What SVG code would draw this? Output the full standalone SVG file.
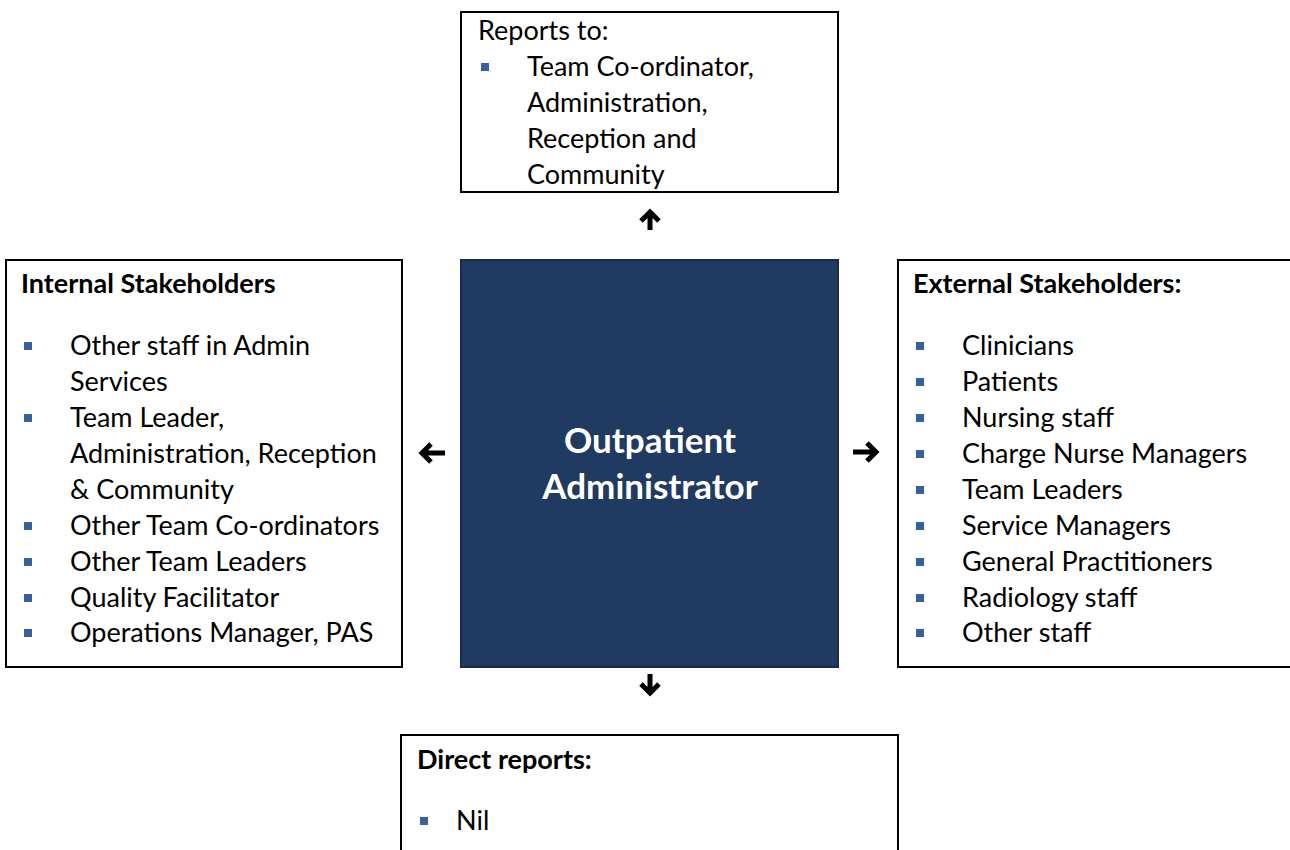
<svg xmlns="http://www.w3.org/2000/svg" width="1290" height="850" viewBox="0 0 1290 850">
<style>
.box{fill:#ffffff;stroke:#000000;stroke-width:2}
.core{fill:#213A62;stroke:#1a2b48;stroke-width:2}
.t{font-family:Lato,"Liberation Sans",sans-serif;font-size:27px;fill:#000000}
.b{font-family:Lato,"Liberation Sans",sans-serif;font-size:27px;font-weight:bold;fill:#000000}
.c{font-family:Lato,"Liberation Sans",sans-serif;font-size:35px;font-weight:bold;fill:#ffffff;text-anchor:middle}
.bl{fill:#36609F}
.arr{fill:none;stroke:#000000;stroke-width:5;stroke-linecap:butt;stroke-linejoin:miter}
</style>
<rect width="1290" height="850" fill="#ffffff"/>
<g id="reports-to">
<rect class="box" x="461" y="12" width="377" height="180"/>
<text class="t" x="478" y="40">Reports to:</text>
<rect class="bl" x="481" y="63" width="8" height="8"/>
<text class="t" x="527" y="76">Team Co-ordinator,</text>
<text class="t" x="527" y="112">Administration,</text>
<text class="t" x="527" y="148">Reception and</text>
<text class="t" x="527" y="184">Community</text>
</g>
<g id="outpatient-administrator">
<rect class="core" x="461" y="260" width="377" height="407"/>
<text class="c" x="650" y="453">Outpatient</text>
<text class="c" x="650" y="499">Administrator</text>
</g>
<g id="internal-stakeholders">
<rect class="box" x="6" y="260" width="396" height="407"/>
<text class="b" x="21" y="293">Internal Stakeholders</text>
<rect class="bl" x="24" y="342" width="8" height="8"/>
<text class="t" x="70" y="355">Other staff in Admin</text>
<text class="t" x="70" y="391">Services</text>
<rect class="bl" x="24" y="414" width="8" height="8"/>
<text class="t" x="70" y="427">Team Leader,</text>
<text class="t" x="70" y="463">Administration, Reception</text>
<text class="t" x="70" y="499">&amp; Community</text>
<rect class="bl" x="24" y="522" width="8" height="8"/>
<text class="t" x="70" y="535">Other Team Co-ordinators</text>
<rect class="bl" x="24" y="558" width="8" height="8"/>
<text class="t" x="70" y="571">Other Team Leaders</text>
<rect class="bl" x="24" y="594" width="8" height="8"/>
<text class="t" x="70" y="607">Quality Facilitator</text>
<rect class="bl" x="24" y="629" width="8" height="8"/>
<text class="t" x="70" y="642">Operations Manager, PAS</text>
</g>
<g id="external-stakeholders">
<rect class="box" x="898" y="260" width="400" height="407"/>
<text class="b" x="913" y="293">External Stakeholders:</text>
<rect class="bl" x="916" y="342" width="8" height="8"/>
<text class="t" x="962" y="355">Clinicians</text>
<rect class="bl" x="916" y="378" width="8" height="8"/>
<text class="t" x="962" y="391">Patients</text>
<rect class="bl" x="916" y="414" width="8" height="8"/>
<text class="t" x="962" y="427">Nursing staff</text>
<rect class="bl" x="916" y="450" width="8" height="8"/>
<text class="t" x="962" y="463">Charge Nurse Managers</text>
<rect class="bl" x="916" y="486" width="8" height="8"/>
<text class="t" x="962" y="499">Team Leaders</text>
<rect class="bl" x="916" y="522" width="8" height="8"/>
<text class="t" x="962" y="535">Service Managers</text>
<rect class="bl" x="916" y="558" width="8" height="8"/>
<text class="t" x="962" y="571">General Practitioners</text>
<rect class="bl" x="916" y="594" width="8" height="8"/>
<text class="t" x="962" y="607">Radiology staff</text>
<rect class="bl" x="916" y="629" width="8" height="8"/>
<text class="t" x="962" y="642">Other staff</text>
</g>
<g id="direct-reports">
<rect class="box" x="401" y="735" width="497" height="130"/>
<text class="b" x="417" y="769">Direct reports:</text>
<rect class="bl" x="420" y="817" width="8" height="8"/>
<text class="t" x="456" y="830">Nil</text>
</g>
<g id="connectors">
<path class="arr" d="M650 230 V212 M641 221 L650 212 L659 221"/>
<path class="arr" d="M650 674 V693 M641 684 L650 693 L659 684"/>
<path class="arr" d="M445 453 H422 M431 444 L422 453 L431 462"/>
<path class="arr" d="M853 452 H876 M867 443 L876 452 L867 461"/>
</g>
</svg>
